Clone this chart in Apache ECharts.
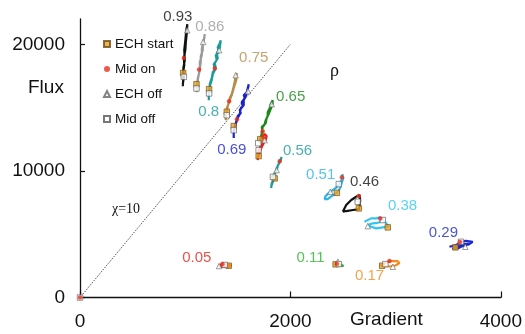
<!DOCTYPE html>
<html><head><meta charset="utf-8">
<script src="https://cdn.jsdelivr.net/npm/echarts@6/dist/echarts.min.js"></script>
<style>html,body{margin:0;padding:0;background:#fff}#c{width:525px;height:334px}</style>
</head><body><div id="c"></div>
<script>
// ---- data ----
const rhoLabels = ['0.93','0.86','0.8','0.75','0.69','0.65','','0.56','0.51','0.46','0.38','0.29','0.05','0.11','0.17'];
const xTicks = [0, 2000, 4000];
const yTicks = [0, 10000, 20000];
const chiLine = [[0,0],[2000,20000]];

const path093 = [[977,16690],[982,17330],[977,17720],[991,18350],[987,18900],[1001,19540],[1006,20170],[1015,20880],[1020,21590],[1010,21110],[1001,20320],[991,19540],[996,18750],[982,18110],[987,17400],[977,16850]];
const path086 = [[1110,16220],[1110,16690],[1120,17170],[1129,17640],[1139,18110],[1148,18590],[1148,19060],[1167,19540],[1167,20010],[1181,20480],[1186,20800],[1177,20320],[1158,19690],[1158,19140],[1139,18590],[1139,17960],[1120,17330],[1110,16690]];
const path080 = [[1224,15590],[1224,16220],[1233,16690],[1252,17170],[1262,17640],[1281,17960],[1271,18430],[1300,18750],[1290,19140],[1319,19380],[1309,19770],[1328,20090],[1338,20320],[1328,19690],[1300,19300],[1309,18900],[1281,18510],[1290,18110],[1262,17800],[1252,17330],[1233,16850],[1233,16220]];
const path075 = [[1385,14010],[1390,14480],[1395,14960],[1414,15350],[1423,15750],[1442,16060],[1452,16380],[1461,16690],[1471,17090],[1480,17480],[1490,17720],[1485,17170],[1461,16540],[1442,15980],[1423,15590],[1404,15120],[1395,14640]];
const path069 = [[1461,12590],[1461,13140],[1471,13540],[1490,14010],[1499,14330],[1528,14560],[1518,14800],[1547,15110],[1537,15430],[1566,15750],[1556,15980],[1585,16220],[1594,16540],[1604,16850],[1594,16380],[1575,15900],[1556,15590],[1556,15190],[1528,14960],[1518,14480],[1499,14170],[1480,13690],[1466,13220]];
const path065 = [[1708,12190],[1717,12670],[1736,13060],[1727,13460],[1755,13690],[1765,14010],[1784,14330],[1784,14640],[1803,14960],[1812,15270],[1831,15590],[1831,15270],[1812,14880],[1793,14480],[1774,14170],[1765,13770],[1736,13460],[1727,12980],[1717,12510]];
const path065b = [[1689,10850],[1694,11250],[1698,11640],[1717,11960],[1736,12190],[1765,12430],[1774,12750],[1755,12910],[1736,12750],[1727,12430],[1746,12190],[1727,11880],[1708,11480],[1698,11090]];
const path056 = [[1817,8640],[1822,9040],[1841,9270],[1831,9590],[1860,9910],[1869,10220],[1888,10540],[1898,10770],[1917,11090],[1907,10850],[1879,10380],[1869,10060],[1850,9750],[1841,9350],[1822,8880]];
const path051 = [[2495,9750],[2495,9430],[2476,9120],[2457,8880],[2429,8640],[2400,8480],[2363,8250],[2334,8010],[2325,7770],[2353,7770],[2391,8010],[2429,8170],[2457,8410],[2476,8720],[2486,9040],[2505,9510]];
const path046 = [[2498,6770],[2530,7300],[2578,7700],[2625,7960],[2657,8090],[2663,7700],[2657,7170],[2650,6960],[2593,6910],[2530,6830],[2498,6770]];
const path038 = [[2704,5980],[2720,6120],[2767,6250],[2815,6250],[2853,6330],[2878,6170],[2910,5860],[2935,5590],[2878,5540],[2815,5460],[2767,5590],[2735,5720],[2783,5860],[2830,5900],[2862,5980]];
const path029 = [[3511,4010],[3574,4140],[3621,4400],[3668,4480],[3732,4400],[3700,4220],[3637,4060],[3589,3880],[3542,3830],[3574,4010],[3637,4220],[3700,4300]];
const path005 = [[1319,2490],[1347,2640],[1385,2600],[1433,2570],[1423,2410],[1376,2410],[1328,2410]];
const path011 = [[2419,2570],[2448,2800],[2467,2640],[2505,2490],[2457,2490],[2429,2570]];
const path017 = [[2846,2490],[2903,2720],[2960,2880],[3017,2880],[3036,2720],[2998,2530],[2941,2450],[2884,2490],[2866,2530]];

const echStart = [[980,17740],[1107,16850],[1227,16460],[1395,14670],[1461,13540],[1713,12510],[1698,11170],[1850,9410],[2441,8270],[2650,7040],[2925,5540],[3567,3960],[1414,2510],[2429,2620],[2872,2510]];
const midOn = [[987,18920],[1132,18010],[1281,18090],[1417,15510],[1492,14090],[1736,13140],[1746,12670],[1898,10770],[2489,9490],[2650,8010],[2853,6250],[3610,4380],[1354,2640],[2441,2670],[2941,2880],[0,0]];
const echOff = [[1018,21110],[1170,20190],[1322,19540],[1480,17560],[1597,16300],[1822,15270],[1755,12430],[1869,10060],[2379,8350],[2638,7830],[2735,5640],[3662,4010],[1322,2490],[2451,2830],[2973,2430]];
const midOff = [[987,17430],[1107,16510],[1227,16120],[1395,14400],[1461,13220],[1694,12190],[1698,11640],[1834,9530],[2460,8960],[2640,7560],[2878,6120],[3621,4400],[1376,2570],[2460,2640],[2903,2640],[0,0]];

const labelAt = [[930,22140],[1233,21350],[1224,14640],[1651,18900],[1442,11640],[2002,15830],[0,0],[2068,11560],[2287,9670],[2704,9120],[3065,7220],[3454,5090],[1110,3120],[2192,3120],[2752,1700]];

// ---- styles ----
const paths = [path093,path086,path080,path075,path069,path065,path065b,path056,path051,path046,path038,path029,path005,path011,path017];
const colors = ['#111111','#9a9a9a','#1e9c9c','#b88b4a','#1b22c8','#1c881c','#e0261e','#1e9c9c','#2ab4ea','#111111','#30c6f0','#1d28cc','#e5261e','#2db32d','#f5891e'];

const FONT = 'Liberation Sans, Arial, Helvetica, sans-serif';
const series = [];
paths.forEach((p, i) => {
  series.push({type:'line', data:p, showSymbol:false, symbol:'none', z:2, silent:true,
    lineStyle:{color:colors[i], width:2.2}, animation:false});
});
series.push({type:'line', data:chiLine, showSymbol:false, symbol:'none', z:1,
  lineStyle:{color:'#222', width:1, type:[1,1.4]}, animation:false});
series.push({type:'scatter', name:'ECH start', data:echStart, symbol:'rect', symbolSize:5.5, z:5,
  itemStyle:{color:'#eba323', borderColor:'#6b4a12', borderWidth:0.8}, animation:false});
series.push({type:'scatter', name:'Mid on', data:midOn, symbol:'circle', symbolSize:4.5, z:6,
  itemStyle:{color:'#e8301e'}, animation:false});
series.push({type:'scatter', name:'ECH off', data:echOff, symbol:'triangle', symbolSize:5.5, z:5,
  itemStyle:{color:'#ffffff', borderColor:'#666', borderWidth:0.8}, animation:false});
series.push({type:'scatter', name:'Mid off', data:midOff, symbol:'rect', symbolSize:5.5, z:5,
  itemStyle:{color:'#ffffff', borderColor:'#555', borderWidth:0.8}, animation:false});
series.push({type:'scatter', data: labelAt.map((p,i)=>({value:p, label:{color:colors[i], formatter: rhoLabels[i]}})),
  symbolSize:0, z:7, clip:false, silent:true, animation:false,
  label:{show:true, position:'inside', fontSize:15, fontFamily:FONT}});

const chart = echarts.init(document.getElementById('c'), null, {renderer:'canvas'});
chart.setOption({
  backgroundColor:'#fff',
  animation:false,
  grid:{left:80, right:23, top:19, bottom:36.5, containLabel:false},
  legend:{orient:'vertical', left:103, top:37, padding:0, itemWidth:6, itemHeight:6, itemGap:11,
    data:['ECH start','Mid on','ECH off','Mid off'],
    textStyle:{fontSize:13.5, color:'#111', fontFamily:FONT, padding:[0,0,0,0]}},
  xAxis:{type:'value', min:0, max:4000, interval:2000,
    axisLine:{lineStyle:{color:'#111', width:1.3}},
    axisTick:{show:true, inside:true, length:6, lineStyle:{color:'#111', width:1.2}},
    splitLine:{show:false},
    axisLabel:{fontSize:19, color:'#111', fontFamily:FONT, margin:15, formatter:v => String(v)}},
  yAxis:{type:'value', min:0, max:22000, interval:10000,
    axisLine:{show:true, lineStyle:{color:'#111', width:1.3}},
    axisTick:{show:true, inside:true, length:5, customValues:yTicks, lineStyle:{color:'#111', width:1.2}},
    splitLine:{show:false},
    axisLabel:{fontSize:19, color:'#111', fontFamily:FONT, margin:15, customValues:yTicks,
      formatter:v => (v % 10000 === 0 ? String(v) : '')}},
  graphic:[
    {type:'text', left:28, top:78, style:{text:'Flux', fontSize:19, fontFamily:FONT, fill:'#111'}},
    {type:'text', left:350, top:310, style:{text:'Gradient', fontSize:19, fontFamily:FONT, fill:'#111'}},
    {type:'text', left:112, top:202, style:{text:'χ=10', fontSize:14, fontFamily:'Liberation Serif, Times New Roman, serif', fill:'#111'}},
    {type:'text', left:330, top:62, style:{text:'ρ', fontSize:18, fontFamily:'Liberation Serif, Times New Roman, serif', fill:'#111'}}
  ],
  series: series
});
</script></body></html>
